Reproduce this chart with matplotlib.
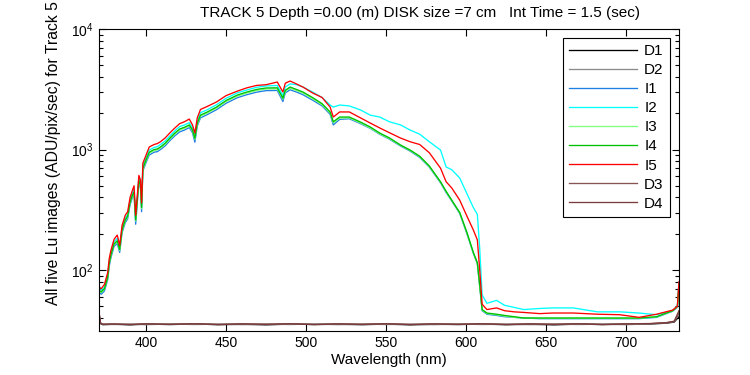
import numpy as np
import matplotlib
matplotlib.use('Agg')
import matplotlib.pyplot as plt
from matplotlib.ticker import LogLocator, FixedLocator

# wavelength grid (nm) for the lit (I) images
wl = [370.5, 372, 374, 376, 377, 378, 380, 382, 383.5, 385, 387, 388.5, 390, 391.5,
      392.5, 393.5, 394.5, 395.5, 396.5, 397.2, 398, 400, 402, 405, 407, 409, 412,
      415, 418, 421, 424, 427, 429, 430.5, 432, 434, 438, 444, 450, 457, 463, 469,
      475, 482, 485.5, 487, 490, 494, 498, 504, 510, 515, 517, 521, 527, 534, 540,
      546, 552, 559, 565, 571, 577, 584, 587.5, 591, 596, 600.5, 604.5, 607, 608.5,
      610, 613, 619, 624, 630, 636, 646, 654, 667, 682, 696, 708, 719, 729, 732, 733]

i1 = [66, 63, 67, 83, 108, 126, 157, 166, 140, 204, 247, 266, 348, 400,
      423, 240, 361, 527, 480, 305, 665, 780, 900, 950, 960, 1000, 1075,
      1190, 1300, 1400, 1450, 1520, 1380, 1150, 1570, 1830, 1940, 2140, 2420, 2690, 2850, 2990,
      3080, 3090, 2500, 2950, 3130, 3000, 2850, 2570, 2300, 1960, 1600, 1780, 1800, 1640, 1500,
      1340, 1220, 1070, 970, 860, 715, 530, 440, 375, 295, 200, 138, 113, 73,
      46, 43, 42, 41, 40.5, 40, 39.5, 39.5, 39.5, 39.5, 39.5, 39.5, 40.5, 45.5, 49, 74]

i2 = [75, 68, 72, 90, 118, 138, 172, 183, 153, 224, 270, 290, 380, 438,
      465, 270, 395, 580, 525, 345, 730, 855, 990, 1040, 1055, 1100, 1180,
      1300, 1430, 1550, 1600, 1670, 1510, 1300, 1720, 2020, 2130, 2350, 2660, 2950, 3120, 3280,
      3370, 3400, 2800, 3300, 3500, 3450, 3300, 3000, 2700, 2340, 2250, 2340, 2300, 2130, 1930,
      1860, 1700, 1600, 1450, 1340, 1160, 990, 716, 680, 580, 430, 330, 290, 150,
      62, 53, 56, 51, 49, 47, 48, 48.5, 48.5, 45, 45, 44, 42.6, 46, 50, 78]

i3 = [67, 65, 69, 85, 112, 131, 162, 172, 145, 211, 255, 275, 359, 412,
      436, 255, 372, 544, 495, 323, 686, 804, 931, 980, 990, 1030, 1108,
      1225, 1343, 1450, 1500, 1568, 1421, 1215, 1617, 1891, 1999, 2205, 2500, 2773, 2940, 3087,
      3175, 3185, 2617, 3038, 3234, 3087, 2940, 2646, 2352, 2009, 1666, 1823, 1830, 1660, 1510,
      1350, 1230, 1080, 980, 870, 722, 535, 445, 378, 298, 203, 139, 114, 74,
      46.5, 43.5, 42.5, 41.5, 40.5, 40, 39.8, 39.8, 39.8, 39.8, 39.8, 39.8, 40.8, 45.8, 49.5, 75]

i4 = [68, 66, 70, 87, 114, 133, 165, 175, 148, 215, 260, 280, 366, 420,
      445, 260, 380, 555, 505, 330, 700, 820, 950, 1000, 1010, 1050, 1130,
      1250, 1370, 1480, 1530, 1600, 1450, 1240, 1650, 1930, 2040, 2250, 2550, 2830, 3000, 3150,
      3240, 3250, 2670, 3100, 3300, 3150, 3000, 2700, 2400, 2050, 1700, 1860, 1860, 1690, 1540,
      1370, 1250, 1090, 990, 880, 730, 540, 450, 380, 300, 205, 140, 115, 75,
      47, 44, 43, 42, 41, 40, 40, 40, 40, 40, 40, 40, 41, 46, 50, 75]

i5 = [72, 70, 76, 95, 125, 145, 180, 195, 160, 235, 285, 305, 400, 460,
      500, 285, 410, 610, 560, 360, 770, 900, 1050, 1100, 1120, 1160, 1250,
      1380, 1510, 1640, 1700, 1790, 1600, 1370, 1830, 2150, 2270, 2480, 2800, 3050, 3250, 3400,
      3450, 3630, 3000, 3550, 3700, 3500, 3300, 2950, 2700, 2250, 1860, 2050, 2050, 1830, 1660,
      1510, 1380, 1245, 1160, 1100, 940, 700, 540, 480, 380, 280, 215, 178, 100,
      52, 47, 48.5, 46, 45, 44.5, 43.5, 44, 44, 43, 42.6, 40.5, 43, 46.5, 50, 80]

# dark images
wl_dark = [370.5, 371.5, 373, 380, 390, 400, 415, 430, 445, 460, 475, 490, 505, 520,
           535, 550, 565, 580, 595, 610, 625, 640, 655, 670, 685, 700, 715, 725, 730, 733]
d1 = [44, 36, 35.2, 35.5, 35.1, 35.6, 35.3, 35.7, 35.2, 35.5, 35.1, 35.6, 35.3, 35.5,
      35.2, 35.6, 35.1, 35.5, 35.3, 35.6, 35.2, 35.5, 35.1, 35.6, 35.3, 35.5, 35.7, 36.2, 37, 41]
d2 = [45, 36.3, 35.5, 35.3, 35.6, 35.2, 35.7, 35.3, 35.6, 35.2, 35.6, 35.3, 35.7, 35.2,
      35.6, 35.3, 35.5, 35.2, 35.7, 35.3, 35.6, 35.2, 35.6, 35.3, 35.6, 35.2, 35.8, 36.4, 37.3, 43]
d3 = [46, 36.5, 35.6, 35.7, 35.4, 35.8, 35.5, 35.9, 35.4, 35.8, 35.5, 35.9, 35.4, 35.8,
      35.5, 35.9, 35.4, 35.8, 35.5, 35.9, 35.4, 35.8, 35.5, 35.9, 35.4, 35.8, 36, 36.6, 37.6, 44]
d4 = [45, 36.2, 35.4, 35.6, 35.3, 35.7, 35.4, 35.8, 35.3, 35.7, 35.4, 35.8, 35.3, 35.7,
      35.4, 35.8, 35.3, 35.7, 35.4, 35.8, 35.3, 35.7, 35.4, 35.8, 35.3, 35.7, 35.9, 36.5, 37.5, 46]

plt.rcParams['font.family'] = ['Liberation Sans', 'DejaVu Sans']
plt.rcParams['font.size'] = 10

fig = plt.figure(figsize=(7.5, 3.75), dpi=100)
ax = fig.add_axes([0.1316, 0.1173, 0.7737, 0.8054])

lw = 0.95
ax.plot(wl_dark, d1, color='black', lw=lw, label='D1')
ax.plot(wl_dark, d2, color='#8c8c8c', lw=lw, label='D2')
ax.plot(wl, i1, color='#1e7fe6', lw=lw, label='I1')
ax.plot(wl, i2, color='#00ffff', lw=lw, label='I2')
ax.plot(wl, i3, color='#80ff80', lw=lw, label='I3')
ax.plot(wl, i4, color='#00c000', lw=lw, label='I4')
ax.plot(wl, i5, color='#ff0000', lw=lw, label='I5')
ax.plot(wl_dark, d3, color='#875353', lw=lw, label='D3')
ax.plot(wl_dark, d4, color='#7a3c3c', lw=lw, label='D4')

ax.set_yscale('log')
ax.set_xlim(370.4, 733)
ax.set_ylim(31.2, 1e4)
ax.xaxis.set_major_locator(FixedLocator([400, 450, 500, 550, 600, 650, 700]))
ax.yaxis.set_major_locator(LogLocator(base=10, numticks=10))
ax.yaxis.set_minor_locator(LogLocator(base=10, subs=np.arange(2, 10), numticks=10))
ax.tick_params(which='both', direction='in', top=True, right=True, labelsize=10)
ax.tick_params(which='major', length=5, width=0.8)
ax.tick_params(which='minor', length=3, width=0.8)
for s in ax.spines.values():
    s.set_linewidth(0.8)

ax.set_xlabel('Wavelength (nm)', fontsize=11, labelpad=2)
fig.text(0.071, 0.187, 'All five Lu images (ADU/pix/sec) for Track 5', rotation=90,
         ha='center', va='bottom', fontsize=11.3)
fig.text(0.56, 0.965, 'TRACK 5 Depth =0.00 (m) DISK size =7 cm   Int Time = 1.5 (sec)',
         ha='center', va='center', fontsize=11)

leg = ax.legend(loc='upper right', fontsize=11, frameon=True, fancybox=False,
                edgecolor='black', framealpha=1, handlelength=4.4, handletextpad=0.5,
                labelspacing=0.33, borderaxespad=0.6, borderpad=0.4)
leg.get_frame().set_linewidth(0.8)

fig.savefig('out.png', dpi=100)
